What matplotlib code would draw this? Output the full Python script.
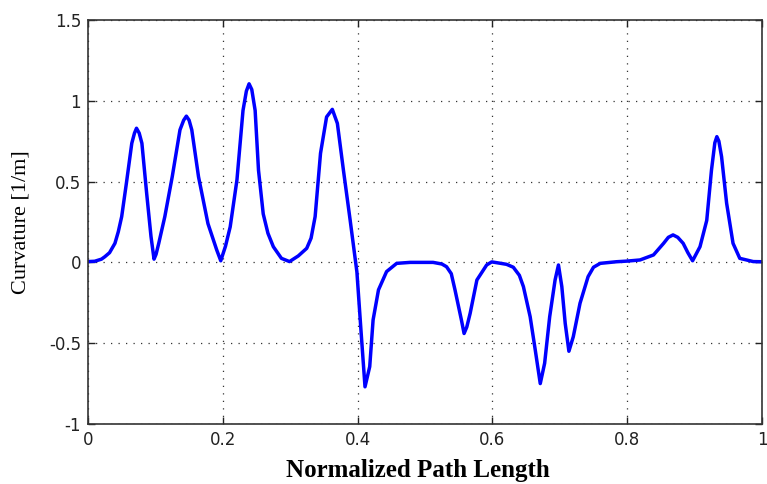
import numpy as np
import matplotlib
matplotlib.use('Agg')
import matplotlib.pyplot as plt

# Curvature profile sampled along the normalized path
path_s = [
    0.000, 0.010, 0.020, 0.025, 0.032, 0.040, 0.045, 0.050, 0.057, 0.065,
    0.069, 0.072, 0.076, 0.080, 0.087, 0.0935, 0.098, 0.101, 0.105, 0.114,
    0.125, 0.1365, 0.142, 0.146, 0.150, 0.154, 0.164, 0.178, 0.191, 0.197,
    0.204, 0.211, 0.221, 0.230, 0.235, 0.239, 0.243, 0.248, 0.253, 0.260,
    0.267, 0.275, 0.287, 0.299, 0.312, 0.3245, 0.331, 0.337, 0.345, 0.354,
    0.3625, 0.370, 0.379, 0.389, 0.394, 0.399, 0.405, 0.411, 0.418, 0.423,
    0.431, 0.443, 0.458, 0.478, 0.512, 0.525, 0.532, 0.539, 0.5445, 0.554,
    0.558, 0.562, 0.567, 0.577, 0.5915, 0.599, 0.611, 0.621, 0.631, 0.640,
    0.646, 0.656, 0.6635, 0.671, 0.6775, 0.685, 0.693, 0.698, 0.703, 0.708,
    0.7135, 0.720, 0.730, 0.742, 0.750, 0.760, 0.784, 0.800, 0.819, 0.839,
    0.854, 0.861, 0.868, 0.875, 0.883, 0.890, 0.897, 0.908, 0.918, 0.925,
    0.930, 0.933, 0.936, 0.940, 0.9475, 0.957, 0.967, 0.987, 1.000,
]
curvature = [
    0.005, 0.007, 0.020, 0.035, 0.060, 0.118, 0.190, 0.283, 0.490, 0.737,
    0.800, 0.830, 0.800, 0.737, 0.430, 0.160, 0.020, 0.050, 0.118, 0.283,
    0.530, 0.820, 0.880, 0.905, 0.880, 0.820, 0.530, 0.240, 0.077, 0.010,
    0.100, 0.220, 0.510, 0.940, 1.060, 1.105, 1.070, 0.940, 0.570, 0.300,
    0.180, 0.097, 0.025, 0.005, 0.040, 0.087, 0.150, 0.283, 0.675, 0.900,
    0.947, 0.860, 0.570, 0.260, 0.100, -0.060, -0.420, -0.770, -0.645, -0.356,
    -0.170, -0.057, -0.006, 0.000, 0.000, -0.010, -0.027, -0.070, -0.170, -0.356,
    -0.440, -0.400, -0.315, -0.109, -0.016, 0.003, -0.005, -0.012, -0.030, -0.080,
    -0.150, -0.336, -0.540, -0.750, -0.624, -0.336, -0.109, -0.016, -0.150, -0.377,
    -0.550, -0.460, -0.253, -0.088, -0.030, -0.006, 0.004, 0.008, 0.015, 0.046,
    0.118, 0.155, 0.170, 0.155, 0.118, 0.060, 0.010, 0.097, 0.260, 0.570,
    0.740, 0.778, 0.750, 0.654, 0.366, 0.118, 0.025, 0.005, 0.004,
]

x_ticks = [0, 0.2, 0.4, 0.6, 0.8, 1]
x_tick_labels = ['0', '0.2', '0.4', '0.6', '0.8', '1']
y_ticks = [-1, -0.5, 0, 0.5, 1, 1.5]
y_tick_labels = ['-1', '-0.5', '0', '0.5', '1', '1.5']

fig = plt.figure(figsize=(7.67, 4.84), dpi=100)
ax = fig.add_axes([0.1147, 0.124, 0.8788, 0.8347])

ax.plot(path_s, curvature, color='#0000ff', linewidth=2.5)

ax.set_xlim(0, 1)
ax.set_ylim(-1, 1.5)
ax.set_xticks(x_ticks)
ax.set_xticklabels(x_tick_labels)
ax.set_yticks(y_ticks)
ax.set_yticklabels(y_tick_labels)

ax.grid(True, color='#333333', linestyle=(0, (1, 5)), linewidth=0.9)
ax.tick_params(direction='in', length=5, width=1, top=True, right=True,
               labelsize=12, colors='#222222', pad=5)
for sp in ax.spines.values():
    sp.set_color('#333333')
    sp.set_linewidth(1.2)

ax.set_xlabel('Normalized Path Length', family='Liberation Serif',
              fontsize=18, fontweight='bold')
ax.xaxis.set_label_coords(0.49, -0.130)
ax.xaxis.label.set_va('baseline')

ax.set_ylabel('Curvature [1/m]', family='Liberation Serif', fontsize=16)
ax.yaxis.set_label_coords(-0.099, 0.5)
ax.yaxis.label.set_va('center')

fig.savefig('out.png', dpi=100)
